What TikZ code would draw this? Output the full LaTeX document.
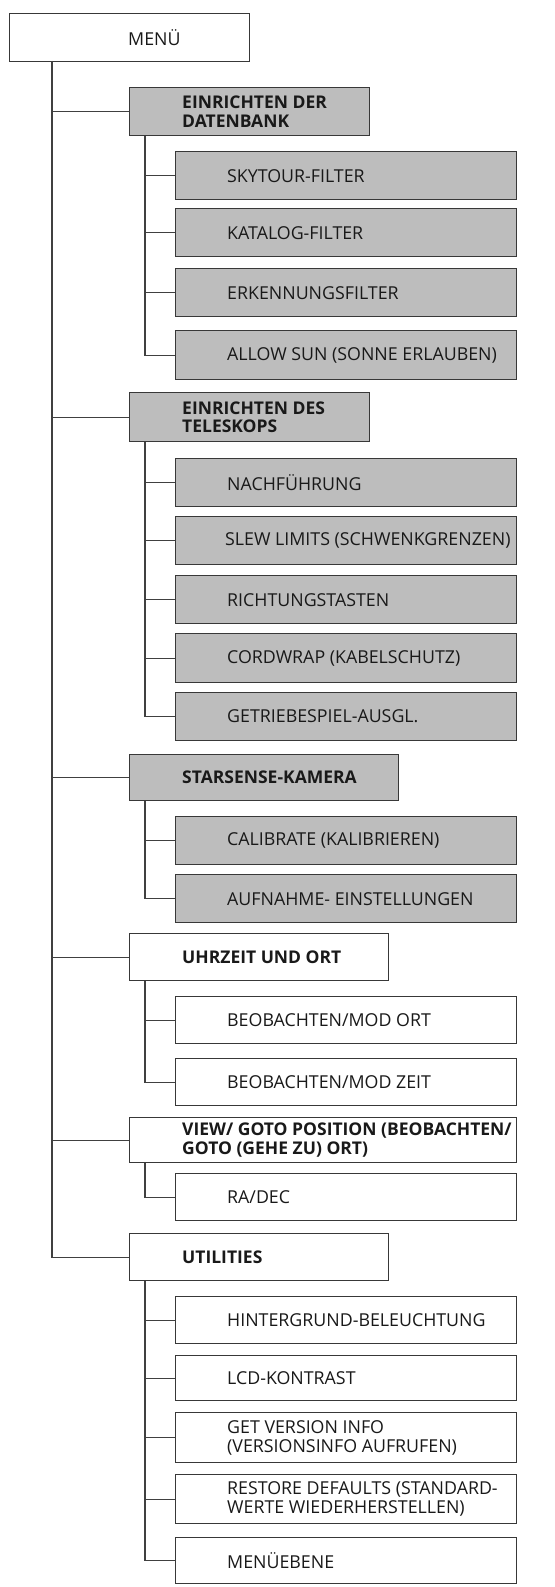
\documentclass[tikz,border=0pt]{standalone}
\usepackage{fontspec}
\setmainfont{Open Sans}
\begin{document}
\begin{tikzpicture}[x=1pt,y=-1pt,
  box/.style={draw=black!78,line width=1.3pt,anchor=north west,inner sep=0pt},
  gbox/.style={box,fill=black!26},
  wbox/.style={box,fill=white},
  lbl/.style={anchor=west,inner sep=0pt,align=left,text=black!90,font=\fontsize{17.8}{19}\selectfont},
  blbl/.style={lbl,font=\fontsize{17.5}{18.5}\selectfont\bfseries},
  conn/.style={draw=black!75,line width=1.1pt}]
\useasboundingbox (0,0) rectangle (554,1587);
% helper: box from (x1,y1) to (x2,y2)
\newcommand{\mybox}[6]{\node[#1,minimum width=#4-#2,minimum height=#5-#3] (#6) at (#2,#3) {};}
\mybox{wbox}{9}{13}{249}{61}{menu}
\mybox{gbox}{129}{87}{369}{135}{db}
\mybox{gbox}{175}{151}{516}{199}{sky}
\mybox{gbox}{175}{208}{516}{256}{kat}
\mybox{gbox}{175}{268}{516}{316}{erk}
\mybox{gbox}{175}{330}{516}{379}{sun}
\mybox{gbox}{129}{392}{369}{441}{tel}
\mybox{gbox}{175}{458}{516}{506}{nach}
\mybox{gbox}{175}{516}{516}{564}{slew}
\mybox{gbox}{175}{575}{516}{623}{richt}
\mybox{gbox}{175}{633}{516}{682}{cord}
\mybox{gbox}{175}{692}{516}{740}{getr}
\mybox{gbox}{129}{754}{398}{800}{star}
\mybox{gbox}{175}{816}{516}{864}{cal}
\mybox{gbox}{175}{874}{516}{922}{auf}
\mybox{wbox}{129}{933}{388}{980}{uhr}
\mybox{wbox}{175}{996}{516}{1043}{ort}
\mybox{wbox}{175}{1058}{516}{1105}{zeit}
\mybox{wbox}{129}{1117}{516}{1162}{view}
\mybox{wbox}{175}{1173}{516}{1220}{radec}
\mybox{wbox}{129}{1233}{388}{1280}{util}
\mybox{wbox}{175}{1296}{516}{1343}{hint}
\mybox{wbox}{175}{1355}{516}{1400}{lcd}
\mybox{wbox}{175}{1412}{516}{1462}{ver}
\mybox{wbox}{175}{1474}{516}{1523}{rest}
\mybox{wbox}{175}{1537}{516}{1583}{meb}
% labels
\node[lbl] (tmenu) at ([xshift=119]menu.west) {MENÜ};
\node[blbl] (tdb) at ([xshift=53]db.west) {EINRICHTEN DER\\DATENBANK};
\node[lbl] (tsky) at ([xshift=52]sky.west) {SKYTOUR-FILTER};
\node[lbl] (tkat) at ([xshift=52]kat.west) {KATALOG-FILTER};
\node[lbl] (terk) at ([xshift=52]erk.west) {ERKENNUNGSFILTER};
\node[lbl] (tsun) at ([xshift=52]sun.west) {ALLOW SUN (SONNE ERLAUBEN)};
\node[blbl] (ttel) at ([xshift=53]tel.west) {EINRICHTEN DES\\TELESKOPS};
\node[lbl] (tnach) at ([xshift=52]nach.west) {NACHFÜHRUNG};
\node[lbl] (tslew) at ([xshift=50]slew.west) {SLEW LIMITS (SCHWENKGRENZEN)};
\node[lbl] (trich) at ([xshift=52]richt.west) {RICHTUNGSTASTEN};
\node[lbl] (tcord) at ([xshift=52]cord.west) {CORDWRAP (KABELSCHUTZ)};
\node[lbl] (tgetr) at ([xshift=52]getr.west) {GETRIEBESPIEL-AUSGL.};
\node[blbl] (tstar) at ([xshift=53]star.west) {STARSENSE-KAMERA};
\node[lbl] (tcal) at ([xshift=52]cal.west) {CALIBRATE (KALIBRIEREN)};
\node[lbl] (tauf) at ([xshift=52]auf.west) {AUFNAHME- EINSTELLUNGEN};
\node[blbl] (tuhr) at ([xshift=53]uhr.west) {UHRZEIT UND ORT};
\node[lbl] (tort) at ([xshift=52]ort.west) {BEOBACHTEN/MOD ORT};
\node[lbl] (tzeit) at ([xshift=52]zeit.west) {BEOBACHTEN/MOD ZEIT};
\node[blbl] (tview) at ([xshift=53]view.west) {VIEW/ GOTO POSITION (BEOBACHTEN/\\GOTO (GEHE ZU) ORT)};
\node[lbl] (tradec) at ([xshift=52]radec.west) {RA/DEC};
\node[blbl] (tutil) at ([xshift=53]util.west) {UTILITIES};
\node[lbl] (thint) at ([xshift=52]hint.west) {HINTERGRUND-BELEUCHTUNG};
\node[lbl] (tlcd) at ([xshift=52]lcd.west) {LCD-KONTRAST};
\node[lbl] (tver) at ([xshift=52]ver.west) {GET VERSION INFO\\(VERSIONSINFO AUFRUFEN)};
\node[lbl] (trest) at ([xshift=52]rest.west) {RESTORE DEFAULTS (STANDARD-\\WERTE WIEDERHERSTELLEN)};
\node[lbl] (tmeb) at ([xshift=52]meb.west) {MENÜEBENE};
% trunk
\coordinate (m) at (52,61);
\draw[conn] (m) |- (util.west);
\foreach \p in {db,tel,star,uhr,view} \draw[conn] (\p.west) -- (\p.west -| m);
% sub trunks
\foreach \p/\last/\kids in {db/sun/{sky,kat,erk},tel/getr/{nach,slew,richt,cord},star/auf/{cal},uhr/zeit/{ort},view/radec/{},util/meb/{hint,lcd,ver,rest}}{
  \coordinate (s) at ([xshift=16]\p.south west);
  \draw[conn] (s) |- (\last.west);
  \foreach \k in \kids {\draw[conn] (\k.west) -- (\k.west -| s);}
}
\end{tikzpicture}
\end{document}
